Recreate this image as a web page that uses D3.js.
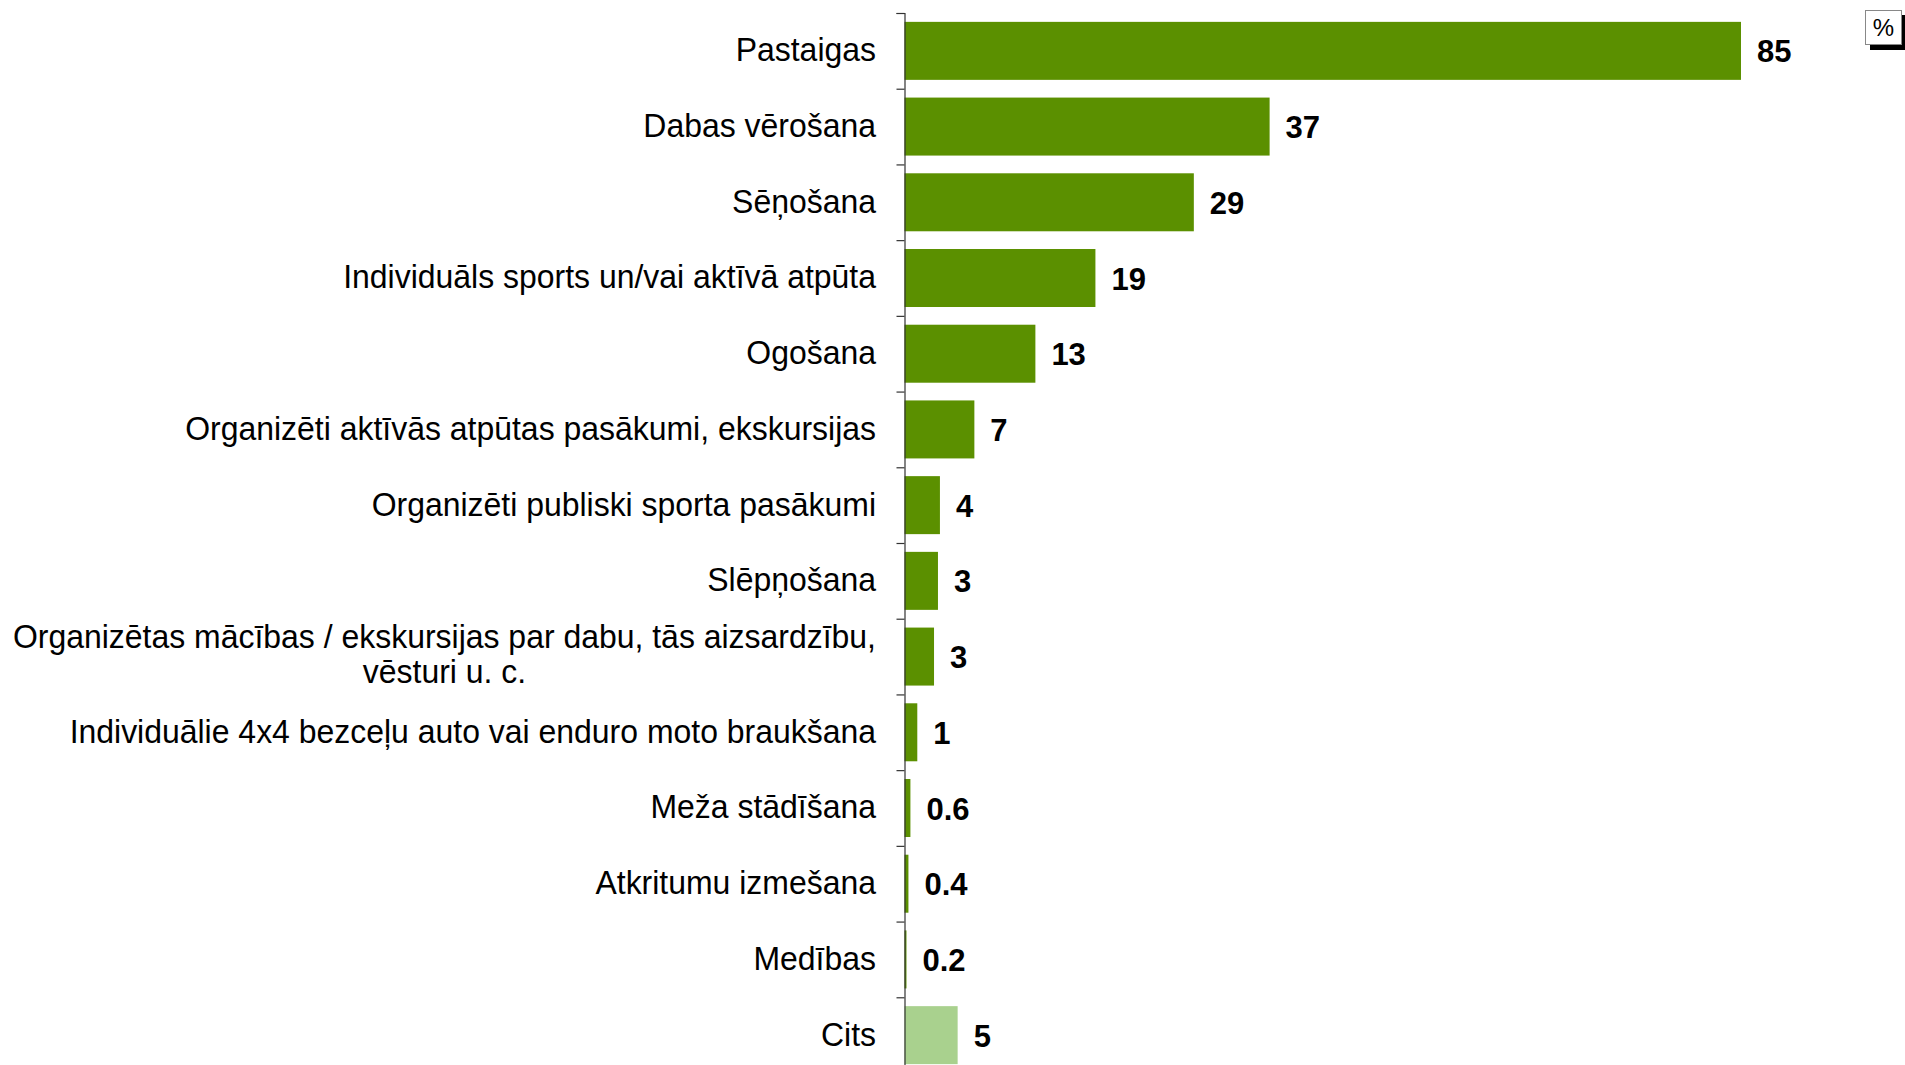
<!DOCTYPE html>
<html>
<head>
<meta charset="utf-8">
<script src="https://cdn.jsdelivr.net/npm/d3@7"></script>
<style>
  body { margin: 0; background: #fff; }
  svg { display: block; }
</style>
</head>
<body>
<div id="chart"></div>
<script>
// categories, top to bottom (multi-line labels split on "|")
let categories = [
  'Pastaigas',
  'Dabas vērošana',
  'Sēņošana',
  'Individuāls sports un/vai aktīvā atpūta',
  'Ogošana',
  'Organizēti aktīvās atpūtas pasākumi, ekskursijas',
  'Organizēti publiski sporta pasākumi',
  'Slēpņošana',
  'Organizētas mācības / ekskursijas par dabu, tās aizsardzību,|vēsturi u. c.',
  'Individuālie 4x4 bezceļu auto vai enduro moto braukšana',
  'Meža stādīšana',
  'Atkritumu izmešana',
  'Medības',
  'Cits'
];
// percent values
let values = [85, 37.1, 29.4, 19.4, 13.3, 7.1, 3.6, 3.4, 3.0, 1.3, 0.6, 0.4, 0.2, 5.4];
// 'Cits' (other) is drawn in the light colour
let otherCategory = 'Cits';
let unitLabel = '%';

let width = 1905, height = 1065;
let axisX = 904.5;

let svg = d3.select('#chart')
  .append('svg')
  .attr('width', width)
  .attr('height', height);

let x = d3.scaleLinear()
  .domain([0, 85])
  .range([axisX, 1741]);

let y = d3.scaleBand()
  .domain(categories)
  .range([13, 1073])
  .paddingInner(0.234)
  .paddingOuter(0.117);

let data = categories.map((c, i) => ({ cat: c, value: values[i] }));

//bars
svg.selectAll('rect.bar')
  .data(data)
  .enter()
  .append('rect')
  .attr('class', 'bar')
  .attr('x', x(0))
  .attr('y', d => y(d.cat))
  .attr('width', d => x(d.value) - x(0))
  .attr('height', y.bandwidth())
  .attr('fill', d => d.cat === otherCategory ? '#a9d18e' : '#5b9000');

//axis with ticks at band boundaries
let boundary = d3.scaleLinear()
  .domain([0, categories.length])
  .range([13, 13 + y.step() * categories.length]);
svg.append('g')
  .attr('transform', 'translate(' + axisX + ',0)')
  .call(d3.axisLeft(boundary)
    .tickValues(d3.range(categories.length + 1))
    .tickSize(8)
    .tickSizeOuter(8)
    .tickFormat(''))
  .call(g => g.selectAll('path, line').attr('stroke', '#333').attr('stroke-width', 1.2));

//category labels (slightly condensed, like the original font)
let labels = svg.append('g')
  .attr('transform', 'translate(876,0) scale(0.94,1)');
data.forEach(d => {
  let lines = d.cat.split('|');
  let cy = y(d.cat) + y.bandwidth() / 2 + 10.5;
  if (lines.length === 1) {
    labels.append('text')
      .attr('x', 0)
      .attr('y', cy)
      .attr('text-anchor', 'end')
      .attr('font-family', 'Liberation Sans, Arial, sans-serif')
      .attr('font-size', '34px')
      .attr('fill', '#000')
      .text(lines[0]);
  } else {
    let first = labels.append('text')
      .attr('x', 0)
      .attr('y', cy - 19.5)
      .attr('text-anchor', 'end')
      .attr('font-family', 'Liberation Sans, Arial, sans-serif')
      .attr('font-size', '34px')
      .attr('fill', '#000')
      .text(lines[0]);
    let w = first.node().getComputedTextLength();
    labels.append('text')
      .attr('x', -w / 2)
      .attr('y', cy + 15.5)
      .attr('text-anchor', 'middle')
      .attr('font-family', 'Liberation Sans, Arial, sans-serif')
      .attr('font-size', '34px')
      .attr('fill', '#000')
      .text(lines[1]);
  }
});

//value labels
svg.selectAll('text.value')
  .data(data)
  .enter()
  .append('text')
  .attr('class', 'value')
  .attr('x', d => x(d.value) + 16)
  .attr('y', d => y(d.cat) + y.bandwidth() / 2 + 11.5)
  .attr('font-family', 'Liberation Sans, Arial, sans-serif')
  .attr('font-size', '31px')
  .attr('font-weight', 'bold')
  .attr('fill', '#000')
  .text(d => d.value >= 1 ? d3.format('.0f')(d.value) : d3.format('.1f')(d.value));

//unit box with shadow
svg.append('rect')
  .attr('x', 1870)
  .attr('y', 15)
  .attr('width', 37)
  .attr('height', 35)
  .attr('fill', '#000');
svg.append('rect')
  .attr('x', 1865.5)
  .attr('y', 10.5)
  .attr('width', 36)
  .attr('height', 34)
  .attr('fill', '#fff')
  .attr('stroke', '#888')
  .attr('stroke-width', 1);
svg.append('text')
  .attr('x', 1883.5)
  .attr('y', 36)
  .attr('text-anchor', 'middle')
  .attr('font-family', 'Liberation Sans, Arial, sans-serif')
  .attr('font-size', '24px')
  .attr('fill', '#000')
  .text(unitLabel);
</script>
</body>
</html>
